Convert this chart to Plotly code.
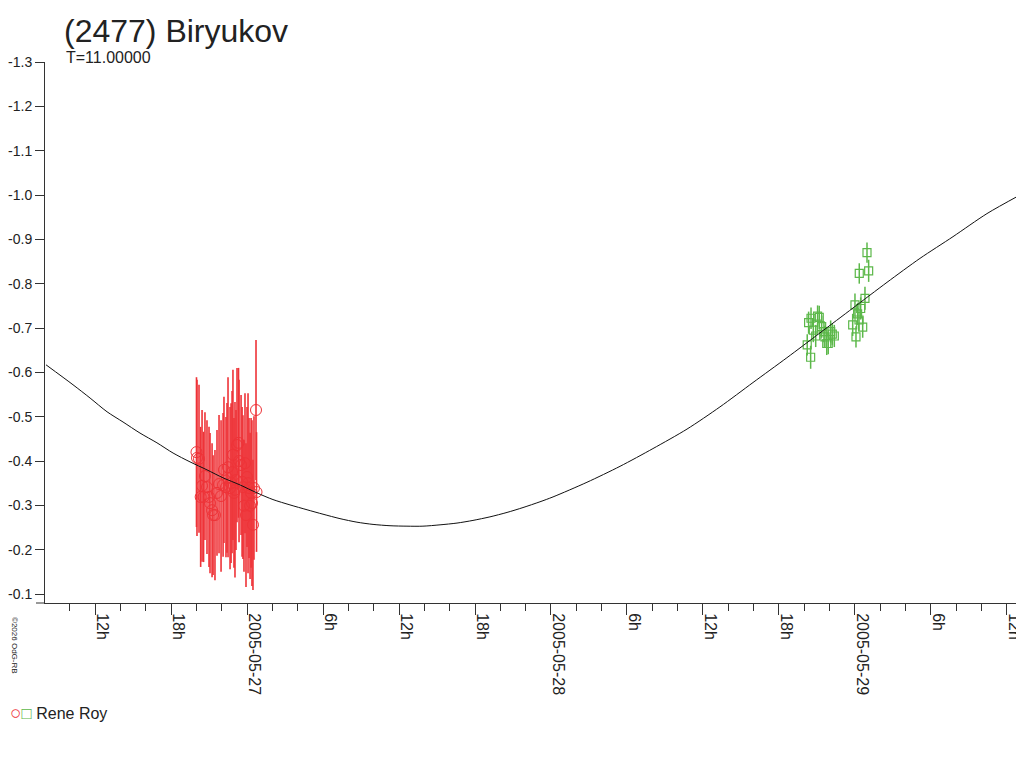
import pandas as pd
import plotly.graph_objects as go

base = pd.Timestamp("2005-05-27 00:00")

# model curve (hours from 2005-05-27 00h, magnitude)
curve_h = [-15.87, -13.74, -12.39, -11.05, -9.79, -8.45, -7.11, -5.84, -4.50, -3.16,
           -1.89, -0.55, 0.79, 2.05, 3.39, 4.74, 6.00, 7.34, 8.68, 9.95,
           11.29, 12.63, 13.89, 15.24, 16.58, 17.84, 19.18, 20.53, 21.79, 23.13,
           24.16, 26.84, 29.45, 32.05, 34.74, 37.34, 39.95, 42.63, 45.24, 47.84,
           50.53, 53.13, 55.74, 58.42, 61.03]
curve_mag = [-0.617, -0.572, -0.542, -0.511, -0.488, -0.463, -0.441, -0.418, -0.398, -0.380,
             -0.362, -0.346, -0.328, -0.313, -0.301, -0.290, -0.280, -0.270, -0.262, -0.257,
             -0.254, -0.253, -0.253, -0.256, -0.260, -0.266, -0.274, -0.284, -0.295, -0.308,
             -0.319, -0.352, -0.388, -0.428, -0.472, -0.522, -0.577, -0.633, -0.689, -0.745,
             -0.803, -0.857, -0.906, -0.958, -1.000]

# Rene Roy, first night (red circles)
red_h = [-3.99, -3.95, -3.79, -3.66, -3.55, -3.43, -3.32, -3.16, -3.00, -2.92,
         -2.76, -2.68, -2.53, -2.37, -2.21, -2.05, -1.89, -1.82, -1.66, -1.58,
         -1.50, -1.34, -1.26, -1.18, -1.11, -1.03, -0.95, -0.87, -0.79, -0.67,
         -0.63, -0.47, -0.39, -0.32, -0.24, -0.16, -0.08, 0.00, 0.08, 0.16,
         0.24, 0.32, 0.39, 0.47, 0.55, 0.71, 0.75]
red_mag = [-0.420, -0.407, -0.405, -0.319, -0.344, -0.319, -0.366, -0.341, -0.319, -0.305,
           -0.289, -0.278, -0.278, -0.328, -0.348, -0.321, -0.346, -0.380, -0.341, -0.362,
           -0.386, -0.339, -0.350, -0.375, -0.414, -0.328, -0.335, -0.357, -0.436, -0.441,
           -0.400, -0.391, -0.353, -0.341, -0.299, -0.395, -0.278, -0.364, -0.350, -0.339,
           -0.299, -0.328, -0.305, -0.256, -0.339, -0.515, -0.330]
red_err = [0.169, 0.176, 0.167, 0.158, 0.171, 0.147, 0.144, 0.151, 0.158, 0.158,
           0.151, 0.135, 0.147, 0.142, 0.156, 0.171, 0.162, 0.165, 0.158, 0.169,
           0.203, 0.183, 0.180, 0.183, 0.192, 0.169, 0.198, 0.158, 0.174, 0.169,
           0.183, 0.158, 0.169, 0.162, 0.149, 0.158, 0.162, 0.158, 0.203, 0.158,
           0.165, 0.169, 0.187, 0.147, 0.162, 0.158, 0.135]

# Rene Roy, second night (green squares)
green_h = [44.23, 44.50, 44.34, 44.53, 44.71, 44.90, 45.05, 45.18, 45.37, 45.55,
           45.63, 45.77, 45.89, 46.08, 46.21, 46.37, 47.82, 48.00, 48.08, 48.21,
           48.32, 48.34, 48.45, 48.61, 48.79, 48.95, 49.08]
green_mag = [-0.662, -0.634, -0.712, -0.722, -0.695, -0.682, -0.727, -0.724, -0.703, -0.692,
             -0.680, -0.665, -0.665, -0.692, -0.686, -0.682, -0.707, -0.752, -0.680, -0.732,
             -0.718, -0.823, -0.744, -0.702, -0.767, -0.870, -0.829]
green_err = [0.024, 0.026, 0.025, 0.024, 0.027, 0.025, 0.024, 0.026, 0.025, 0.024,
             0.025, 0.026, 0.024, 0.025, 0.024, 0.025, 0.025, 0.026, 0.024, 0.025,
             0.024, 0.023, 0.025, 0.024, 0.026, 0.023, 0.025]

# axis ticks
x_tick_h = [-12, -6, 0, 6, 12, 18, 24, 30, 36, 42, 48, 54, 60]
x_tick_text = ["12h", "18h", "2005-05-27", "6h", "12h", "18h", "2005-05-28",
               "6h", "12h", "18h", "2005-05-29", "6h", "12h"]
y_ticks = [-1.3, -1.2, -1.1, -1.0, -0.9, -0.8, -0.7, -0.6, -0.5, -0.4, -0.3, -0.2, -0.1]
y_tick_text = ["-1.3", "-1.2", "-1.1", "-1.0", "-0.9", "-0.8", "-0.7",
               "-0.6", "-0.5", "-0.4", "-0.3", "-0.2", "-0.1"]


def to_time(hours):
    return base + pd.to_timedelta(hours, unit="h")


RED = "#ee3338"
GREEN = "#5cb84a"
AXIS = "#333333"
FONT = "Liberation Sans, Arial, sans-serif"

# the page body adds an 8px margin, so the figure is made smaller to fit the window
W, H = 1016, 752

fig = go.Figure()

fig.add_trace(go.Scatter(
    x=to_time(red_h), y=red_mag, mode="markers",
    marker=dict(symbol="circle-open", size=11, color=RED, line=dict(width=1, color=RED)),
    error_y=dict(type="data", array=red_err, color=RED, thickness=1.6, width=0),
    showlegend=False
))

fig.add_trace(go.Scatter(
    x=to_time(green_h), y=green_mag, mode="markers",
    marker=dict(symbol="square-open", size=8, color=GREEN, line=dict(width=1.2, color=GREEN)),
    error_y=dict(type="data", array=green_err, color=GREEN, thickness=1.5, width=0),
    showlegend=False
))

fig.add_trace(go.Scatter(
    x=to_time(curve_h), y=curve_mag, mode="lines",
    line=dict(color="#111111", width=1, shape="spline", smoothing=0.8),
    showlegend=False
))

fig.update_layout(
    width=W, height=H,
    margin=dict(l=37, r=4, t=54, b=157),
    paper_bgcolor="white", plot_bgcolor="white",
    font=dict(family=FONT, color="#222222", size=16),
    title=dict(text="(2477) Biryukov", font=dict(size=32, color="#222222"),
               x=56 / W, xanchor="left", xref="container",
               y=1 - 23 / H, yanchor="middle", yref="container"),
)

fig.update_xaxes(
    type="date", automargin=False,
    range=[to_time(-15.95), to_time(61.03)],
    tickmode="array", tickvals=to_time(x_tick_h), ticktext=x_tick_text,
    tickangle=90, ticklabelshift=7, ticklabelstandoff=-5, ticklabeloverflow="allow",
    ticks="outside", ticklen=11, tickcolor=AXIS, tickwidth=1,
    minor=dict(ticks="outside", ticklen=7, tickcolor=AXIS, tickwidth=1,
               dtick=2 * 3600 * 1000, tick0="2005-05-26 00:00"),
    showline=True, linecolor=AXIS, linewidth=1,
    showgrid=False, zeroline=False,
    tickfont=dict(size=16, color="#222222"),
)

fig.update_yaxes(
    automargin=False,
    range=[-0.0797, -1.3],
    tickmode="array", tickvals=y_ticks, ticktext=y_tick_text,
    ticks="outside", ticklen=9, tickcolor=AXIS, tickwidth=1,
    showline=True, linecolor=AXIS, linewidth=1,
    showgrid=False, zeroline=False,
    tickfont=dict(size=14, color="#222222"),
)

# x axis line reaches a little left of the y axis
fig.add_shape(type="line", xref="paper", yref="paper",
              x0=-9 / 975, x1=0, y0=0, y1=0, line=dict(color=AXIS, width=1))

fig.add_annotation(text="T=11.00000", xref="paper", yref="paper",
                   x=19 / 975, y=1 + 4 / 541, xanchor="left", yanchor="middle",
                   showarrow=False, font=dict(size=16, color="#222222"))

fig.add_annotation(
    text=(f"<span style='color:{RED};font-size:19px'>○</span>"
          f"<span style='color:{GREEN};font-size:17px'>□</span> Rene Roy"),
    xref="paper", yref="paper", x=-37 / 975, y=-109 / 541,
    xanchor="left", yanchor="middle", showarrow=False,
    font=dict(size=16, color="#222222"))

fig.add_annotation(text="©2026 OdG-RB", xref="paper", yref="paper",
                   x=-37 / 975, y=-12 / 541, xanchor="left", yanchor="top",
                   textangle=90, showarrow=False, font=dict(size=8, color="#222222"))

fig.write_html("out.html")
